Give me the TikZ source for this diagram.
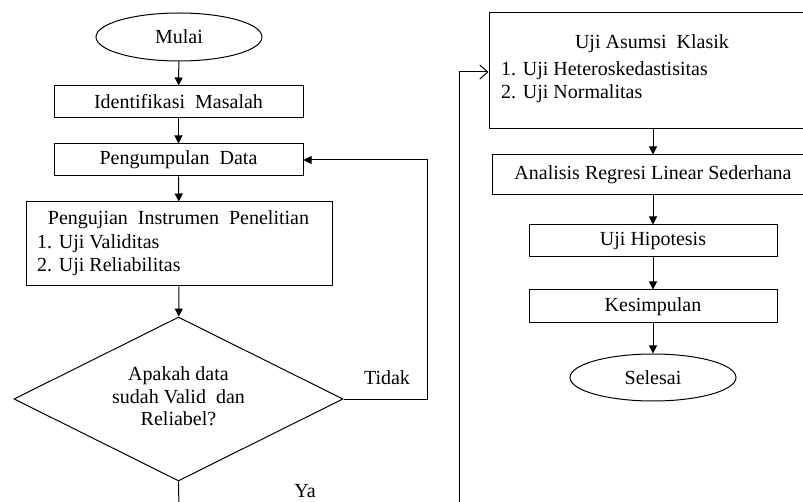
\documentclass[tikz,border=0pt]{standalone}
\usepackage{fontspec}
\setmainfont{Liberation Serif}
\usetikzlibrary{shapes.geometric,arrows.meta}

\tikzset{
  teks/.style={font=\fontsize{20}{23}\selectfont},
  kotak/.style={draw,rectangle,line width=1pt,inner sep=0pt,teks},
  oval/.style={draw,ellipse,line width=1pt,inner sep=0pt,teks,minimum width=166pt,minimum height=48pt},
  keputusan/.style={draw,diamond,line width=1pt,inner sep=0pt,aspect=2,minimum width=329pt,minimum height=164pt},
  baris/.style={teks,inner sep=0pt,text height=0.7em,text depth=0.2em},
  panah/.style={line width=1pt,-{Triangle[length=8pt,width=8pt]}},
  panahbuka/.style={line width=1pt,-{Straight Barb[length=8pt,width=14pt]}}
}

\begin{document}
\begin{tikzpicture}[x=1pt,y=-1pt]
\clip (0,0) rectangle (803,502);
% Kolom kiri
\node[oval] (mulai) at (179,37) {Mulai};
\node[kotak,minimum width=249pt,minimum height=32pt] (identifikasi) at (178.5,102) {Identifikasi\ \ Masalah};
\node[kotak,minimum width=249pt,minimum height=32pt] (kumpul) at (178.5,160) {Pengumpulan\ \ Data};
\node[kotak,minimum width=306pt,minimum height=84pt] (instrumen) at (179,244) {};
\node[baris] (instrumen-judul) at (178.5,222) {Pengujian\ \ Instrumen\ \ Penelitian};
\node[baris,anchor=west] (instrumen-1) at (37,246) {1. Uji Validitas};
\node[baris,anchor=west] (instrumen-2) at (37,269) {2. Uji Reliabilitas};
\node[keputusan] (cek) at (178.5,399) {};
\node[baris] (cek-1) at (178.5,378) {Apakah data};
\node[baris] (cek-2) at (178.5,401) {sudah Valid\ \ dan};
\node[baris] (cek-3) at (178.5,423) {Reliabel?};
% Kolom kanan
\node[kotak,minimum width=328pt,minimum height=116pt] (asumsi) at (653,71) {};
\node[baris] (asumsi-judul) at (652,46) {Uji Asumsi\ \ Klasik};
\node[baris,anchor=west] (asumsi-1) at (501,73) {1. Uji Heteroskedastisitas};
\node[baris,anchor=west] (asumsi-2) at (501,96) {2. Uji Normalitas};
\node[kotak,minimum width=322pt,minimum height=40pt] (regresi) at (653,175) {Analisis Regresi Linear Sederhana};
\node[kotak,minimum width=248pt,minimum height=32pt] (hipotesis) at (653,241) {Uji Hipotesis};
\node[kotak,minimum width=248pt,minimum height=33pt] (kesimpulan) at (653,306.5) {Kesimpulan};
\node[oval,minimum height=47pt] (selesai) at (653,377.5) {Selesai};
% Titik bantu
\coordinate (tidak-pojok) at (427,399);
\coordinate (tidak-atas) at (427,160);
\coordinate (ya-bawah) at (179,510);
\coordinate (kanan-bawah) at (459,510);
\coordinate (kanan-atas) at (459,72);
% Panah
\draw[panah] (mulai) -- (identifikasi);
\draw[panah] (identifikasi) -- (kumpul);
\draw[panah] (kumpul) -- (instrumen);
\draw[panah] (instrumen) -- (cek);
\draw[panah] (cek.east) -- (tidak-pojok) -- (tidak-atas) -- (kumpul.east);
\draw[line width=1pt] (cek.south) -- (ya-bawah);
\draw[panahbuka] (kanan-bawah) -- (kanan-atas) -- (asumsi.west |- kanan-atas);
\draw[panah] (asumsi) -- (regresi);
\draw[panah] (regresi) -- (hipotesis);
\draw[panah] (hipotesis) -- (kesimpulan);
\draw[panah] (kesimpulan) -- (selesai);
% Label cabang
\node[baris] (label-tidak) at (387,382) {Tidak};
\node[baris] (label-ya) at (305,495) {Ya};
\end{tikzpicture}
\end{document}
